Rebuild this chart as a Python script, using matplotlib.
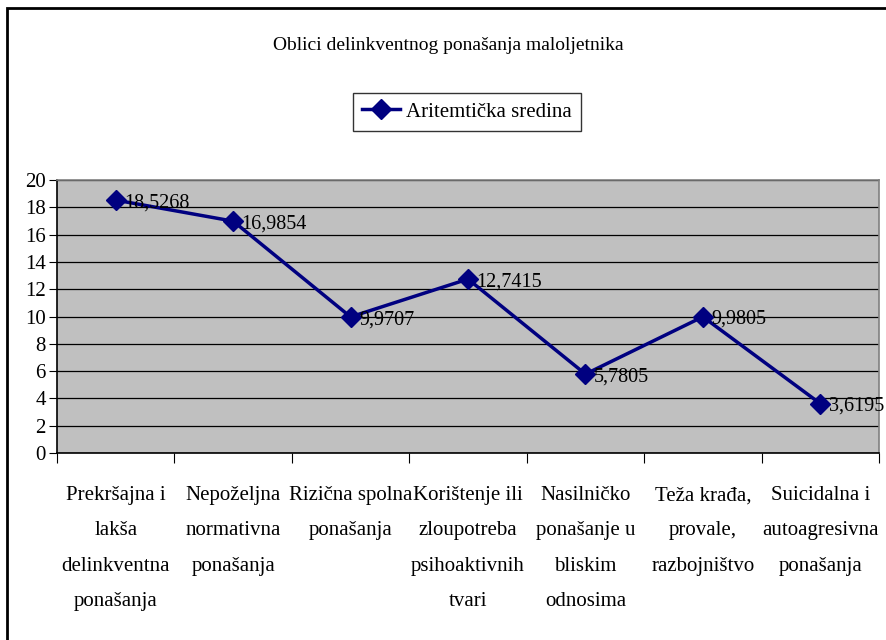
import matplotlib.pyplot as plt
from matplotlib.patches import Rectangle

categories = [
    "Prekršajna i\nlakša\ndelinkventna\nponašanja",
    "Nepoželjna\nnormativna\nponašanja",
    "Rizična spolna\nponašanja",
    "Korištenje ili\nzloupotreba\npsihoaktivnih\ntvari",
    "Nasilničko\nponašanje u\nbliskim\nodnosima",
    "Teža krađa,\nprovale,\nrazbojništvo",
    "Suicidalna i\nautoagresivna\nponašanja",
]
values = [18.5268, 16.9854, 9.9707, 12.7415, 5.7805, 9.9805, 3.6195]
value_labels = ["18,5268", "16,9854", "9,9707", "12,7415", "5,7805", "9,9805", "3,6195"]

plt.rcParams['font.family'] = ['Liberation Serif', 'DejaVu Serif']

W, H = 887, 640
fig = plt.figure(figsize=(W / 100, H / 100), dpi=100)

# outer chart frame
fig.patches.append(Rectangle((7 / W, -0.01), 1.02, (H - 8) / H + 0.01,
                             transform=fig.transFigure, fill=False,
                             edgecolor='black', linewidth=2))

ax = fig.add_axes([57 / W, 1 - 453 / H, (879 - 57) / W, (453 - 180) / H])
ax.set_facecolor('#c0c0c0')
for s in ax.spines.values():
    s.set_color('#808080')
    s.set_linewidth(1.2)
ax.spines['left'].set_color('black')
ax.spines['bottom'].set_color('black')

x = list(range(len(values)))
ax.plot(x, values, color='#000080', linewidth=2.5, marker='D', markersize=10,
        label='Aritemtička sredina', zorder=3)
for xi, v, lab in zip(x, values, value_labels):
    ax.annotate(lab, (xi, v), xytext=(6, -2), textcoords='offset points',
                ha='left', va='center', fontsize=14.5, zorder=4)

ax.set_xlim(-0.5, len(values) - 0.5)
ax.set_ylim(0, 20)
ax.set_yticks(range(0, 21, 2))
ax.yaxis.grid(True, color='black', linewidth=0.9)
ax.set_axisbelow(True)
ax.tick_params(axis='y', labelsize=15, length=6, direction='out', pad=2)

ax.set_xticks([i + 0.5 for i in range(-1, len(values))], minor=False)
ax.set_xticklabels([])
ax.tick_params(axis='x', length=7, direction='out')
ax.set_xticks(x, minor=True)
ax.set_xticklabels(categories, minor=True, fontsize=15, linespacing=2.15,
                   ha='center', va='top')
ax.tick_params(axis='x', which='minor', length=0, pad=24)

fig.text(448 / W, 1 - 45 / H, "Oblici delinkventnog ponašanja maloljetnika",
         ha='center', va='center', fontsize=14)

leg = fig.legend(loc='center', bbox_to_anchor=(467 / W, 1 - 112 / H),
                 fontsize=15, frameon=True, fancybox=False, handlelength=1.8,
                 borderpad=0.45, handletextpad=0.3)
leg.get_frame().set_edgecolor('black')
leg.get_frame().set_linewidth(1)

fig.savefig('out.png', dpi=100)
